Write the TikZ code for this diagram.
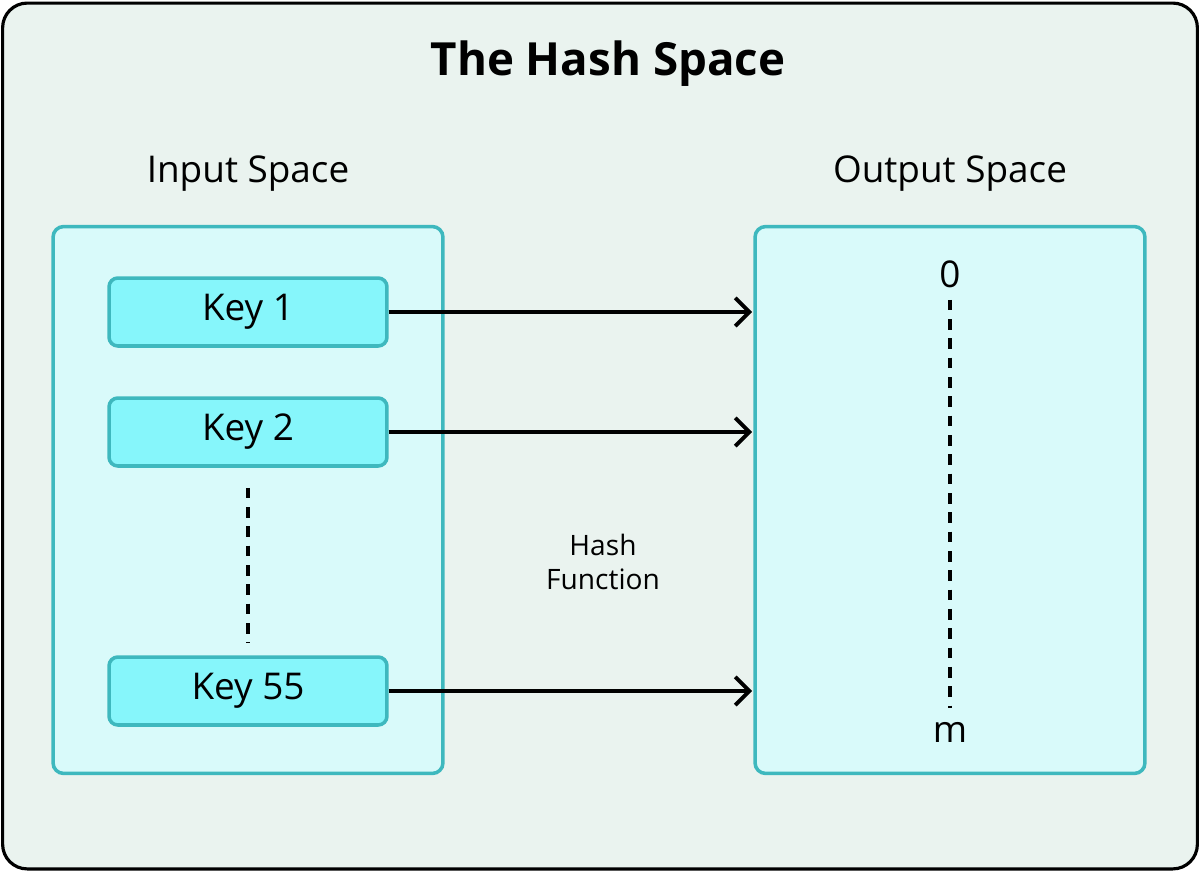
\documentclass[tikz,border=0pt]{standalone}
\usepackage{fontspec}
\setmainfont{Open Sans}
\usetikzlibrary{arrows.meta, calc, positioning}
\definecolor{bgpanel}{HTML}{EAF3EF}
\definecolor{spacefill}{HTML}{D9FAFA}
\definecolor{keyfill}{HTML}{86F6FB}
\definecolor{tealline}{HTML}{3EB8BE}
\tikzstyle{space} = [rectangle, rounded corners=6pt, draw=tealline, line width=2pt, fill=spacefill, minimum width=7.8cm, minimum height=10.94cm]
\tikzstyle{key} = [rectangle, rounded corners=5pt, draw=tealline, line width=2pt, fill=keyfill, minimum width=5.56cm, minimum height=1.36cm, font=\fontsize{21}{24}\selectfont]
\tikzstyle{label} = [font=\fontsize{21}{24}\selectfont]
\tikzstyle{arrow} = [line width=2.2pt, -{Straight Barb[length=8pt, width=16pt]}]
\begin{document}
\begin{tikzpicture}[x=0.02cm, y=-0.02cm]
		\useasboundingbox (0,0) rectangle (1200,872);
		\node (Panel) [draw=black, line width=1.8pt, fill=bgpanel, rounded corners=14pt, minimum width=23.9cm, minimum height=17.32cm] at (600,436) {};
		\node (Title) [font=\bfseries\fontsize{26}{30}\selectfont] at (608,64) {The Hash Space};
		\node (InputLabel) [label] at (248,174) {Input Space};
		\node (OutputLabel) [label] at (950,174) {Output Space};
		\node (Input) [space] at (248,500) {};
		\node (Output) [space] at (950,500) {};
		\node (Key1) [key] at (248,312) {Key 1};
		\node (Key2) [key] at (248,432) {Key 2};
		\node (Key55) [key] at (248,691) {Key 55};
		\node (Zero) [label] at (950,274) {0};
		\node (M) [label] at (950,732) {m};
		\node (Hash) [align=center, font=\fontsize{16}{19}\selectfont] at (603,562) {Hash\\Function};
		\coordinate (Slot1) at (752,312);
		\coordinate (Slot2) at (752,432);
		\coordinate (Slot55) at (752,691);
		\draw [line width=2.2pt, dash pattern=on 6pt off 5pt] ($(Key2.south)+(0,20)$) -- ($(Key55.north)+(0,-12)$);
		\draw [line width=2.2pt, dash pattern=on 6pt off 5pt] ($(Zero.south)+(0,6)$) -- ($(M.north)+(0,-8)$);
		\draw [arrow] (Key1) -- (Slot1);
		\draw [arrow] (Key2) -- (Slot2);
		\draw [arrow] (Key55) -- (Slot55);
\end{tikzpicture}
\end{document}
